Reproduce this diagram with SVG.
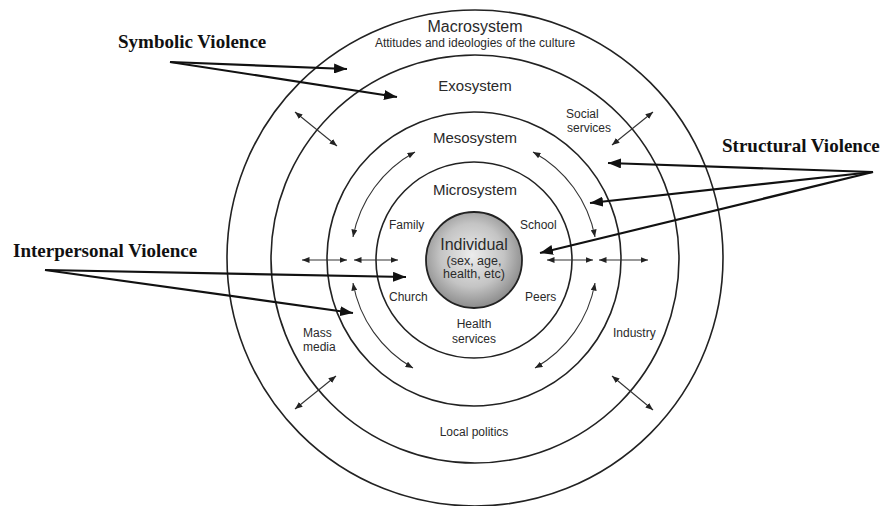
<svg xmlns="http://www.w3.org/2000/svg" width="884" height="506" viewBox="0 0 884 506">
<style>
.ring{fill:none;stroke:#222;stroke-width:1.6}
.lbl{font-family:"Liberation Sans","DejaVu Sans",sans-serif;fill:#2a2a2a}
.s12{font-size:12px}
.s15{font-size:15px}
.s16{font-size:16px}
.title{font-family:"Liberation Serif","Times New Roman",serif;font-weight:bold;font-size:19px;fill:#111}
.big{fill:none;stroke:#111;stroke-width:2.2;marker-end:url(#bigHead)}
.small{fill:none;stroke:#333;stroke-width:1.1;marker-start:url(#smHead);marker-end:url(#smHead)}
</style>
<defs>
<radialGradient id="indGrad" cx="48%" cy="45%" r="55%">
<stop offset="0" stop-color="#ececec"/>
<stop offset="0.6" stop-color="#c4c4c4"/>
<stop offset="1" stop-color="#8c8c8c"/>
</radialGradient>
<marker id="bigHead" markerUnits="userSpaceOnUse" markerWidth="14" markerHeight="10" refX="13" refY="5" orient="auto">
<path d="M0,0 L13,5 L0,10 z" fill="#111"/>
</marker>
<marker id="smHead" markerUnits="userSpaceOnUse" markerWidth="8" markerHeight="6" refX="7.5" refY="3" orient="auto-start-reverse">
<path d="M0,0 L7.5,3 L0,6 z" fill="#222"/>
</marker>
</defs>
<rect width="884" height="506" fill="#fff"/>

<g id="macrosystem">
<circle class="ring" cx="475" cy="258" r="248"/>
<text class="lbl s16" x="475" y="32" text-anchor="middle">Macrosystem</text>
<text class="lbl s12" x="475" y="47" text-anchor="middle">Attitudes and ideologies of the culture</text>
</g>
<g id="exosystem">
<circle class="ring" cx="475" cy="259" r="204"/>
<text class="lbl s15" x="475" y="91" text-anchor="middle">Exosystem</text>
<text class="lbl s12" x="566" y="118">Social</text>
<text class="lbl s12" x="567" y="132">services</text>
<text class="lbl s12" x="303" y="337">Mass</text>
<text class="lbl s12" x="303" y="351">media</text>
<text class="lbl s12" x="613" y="337">Industry</text>
<text class="lbl s12" x="474" y="436" text-anchor="middle">Local politics</text>
</g>
<g id="mesosystem">
<circle class="ring" cx="474" cy="259" r="147"/>
<text class="lbl s15" x="475" y="143" text-anchor="middle">Mesosystem</text>
</g>
<g id="microsystem">
<circle class="ring" cx="474" cy="260" r="98"/>
<text class="lbl s15" x="475" y="195" text-anchor="middle">Microsystem</text>
<text class="lbl s12" x="389" y="229">Family</text>
<text class="lbl s12" x="520" y="229">School</text>
<text class="lbl s12" x="389" y="301">Church</text>
<text class="lbl s12" x="525" y="301">Peers</text>
<text class="lbl s12" x="474" y="328" text-anchor="middle">Health</text>
<text class="lbl s12" x="474" y="343" text-anchor="middle">services</text>
</g>
<g id="individual">
<circle cx="474" cy="260" r="48" fill="url(#indGrad)" stroke="#222" stroke-width="1.8"/>
<text class="lbl s16" x="474" y="250" text-anchor="middle">Individual</text>
<text class="lbl" font-size="12.5" x="474" y="265" text-anchor="middle">(sex, age,</text>
<text class="lbl" font-size="12.5" x="474" y="278" text-anchor="middle">health, etc)</text>
</g>
<g id="symbolic-violence">
<text class="title" x="118" y="48">Symbolic Violence</text>
</g>
<g id="structural-violence">
<text class="title" x="722" y="152">Structural Violence</text>
</g>
<g id="interpersonal-violence">
<text class="title" x="13" y="257">Interpersonal Violence</text>
</g>

<g id="connectors">
<path class="small" d="M415,152 A123,123 0 0 0 353,237"/>
<path class="small" d="M353,283 A123,123 0 0 0 413,368"/>
<path class="small" d="M533,152 A123,123 0 0 1 595,237"/>
<path class="small" d="M595,283 A123,123 0 0 1 535,368"/>
<line class="small" x1="302" y1="260" x2="347" y2="260"/>
<line class="small" x1="354" y1="260" x2="398" y2="260"/>
<line class="small" x1="547" y1="260" x2="593" y2="260"/>
<line class="small" x1="599" y1="260" x2="648" y2="260"/>
<line class="small" x1="295" y1="112" x2="337" y2="146"/>
<line class="small" x1="653" y1="112" x2="612" y2="145"/>
<line class="small" x1="295" y1="409" x2="336" y2="376"/>
<line class="small" x1="612" y1="376" x2="653" y2="410"/>
<line class="big" x1="170" y1="62" x2="347" y2="69"/>
<line class="big" x1="170" y1="62" x2="397" y2="97"/>
<line class="big" x1="873" y1="172" x2="608" y2="163"/>
<line class="big" x1="873" y1="172" x2="590" y2="203"/>
<line class="big" x1="873" y1="172" x2="540" y2="253"/>
<line class="big" x1="45" y1="270" x2="406" y2="277"/>
<line class="big" x1="45" y1="270" x2="353" y2="313"/>
</g>
</svg>
